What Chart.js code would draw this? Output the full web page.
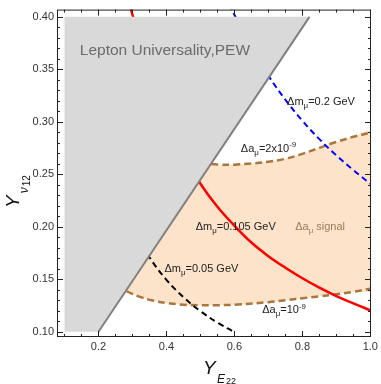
<!DOCTYPE html>
<html>
<head>
<meta charset="utf-8">
<script src="https://cdn.jsdelivr.net/npm/chart.js@4.4.0/dist/chart.umd.min.js"></script>
<style>
html, body { margin: 0; padding: 0; background: #fff; }
#wrap { width: 381px; height: 384px; }
</style>
</head>
<body>
<div id="wrap"><canvas id="chart" width="381" height="384"></canvas></div>
<script>
// ===== data =====
const xTickVals = [0.2, 0.4, 0.6, 0.8, 1.0];
const yTickVals = [0.10, 0.15, 0.20, 0.25, 0.30, 0.35, 0.40];

// excluded region (Lepton Universality, PEW)
const grayX = [0.1, 0.2, 0.821, 0.1];
const grayY = [0.1, 0.1, 0.4, 0.4];
// its drawn edge
const edgeX = [0.2, 0.821];
const edgeY = [0.1, 0.4];

// Δa_μ = 1e-9 (lower) and 2e-9 (upper) contours
const lowX = [0.283, 0.32, 0.36, 0.40, 0.45, 0.50, 0.55, 0.61, 0.70, 0.76, 0.80, 0.85, 0.89, 0.95, 1.00];
const lowY = [0.1385, 0.1335, 0.1297, 0.1275, 0.1258, 0.1252, 0.1253, 0.1259, 0.1282, 0.1305, 0.1320, 0.1337, 0.1353, 0.1381, 0.1410];
const upX = [0.532, 0.56, 0.60, 0.65, 0.70, 0.75, 0.80, 0.85, 0.90, 0.95, 1.00];
const upY = [0.2597, 0.2592, 0.2592, 0.2603, 0.2620, 0.2648, 0.2695, 0.2752, 0.2808, 0.2857, 0.2897];

// Δm_μ contours
const redX = [0.29, 0.30, 0.35, 0.40, 0.45, 0.50, 0.55, 0.60, 0.65, 0.70, 0.75, 0.80, 0.85, 0.90, 0.95, 1.00];
const redY = [0.415, 0.402, 0.344, 0.301, 0.268, 0.241, 0.219, 0.201, 0.185, 0.172, 0.161, 0.151, 0.142, 0.134, 0.127, 0.1205];
const blueX = [0.585, 0.60, 0.65, 0.70, 0.75, 0.80, 0.85, 0.90, 0.95, 1.00];
const blueY = [0.412, 0.402, 0.371, 0.344, 0.321, 0.301, 0.2835, 0.268, 0.254, 0.241];
const blackX = [0.30, 0.35, 0.40, 0.45, 0.50, 0.55, 0.598];
const blackY = [0.199, 0.171, 0.1495, 0.133, 0.1196, 0.1087, 0.100];

const FONT = '"Liberation Sans", Arial, sans-serif';

function pts(xs, ys) {
    return xs.map((x, i) => ({ x: x, y: ys[i] }));
}

// band polygon = lower contour, then upper contour walked back
const bandPts = pts(lowX, lowY).concat(pts(upX, upY).reverse());

// ===== text labels (data coords) =====
const labels = [
    { x: 0.145, y: 0.369, size: 15.5, color: "#6b6b6b", parts: [["Lepton Universality,PEW", 0]] },
    { x: 0.755, y: 0.320, size: 11, color: "#222", parts: [["Δm", 0], ["μ", -1], ["=0.2 GeV", 0]] },
    { x: 0.619, y: 0.2749, size: 11, color: "#222", parts: [["Δa", 0], ["μ", -1], ["=2x10", 0], ["-9", 1]] },
    { x: 0.486, y: 0.2009, size: 11, color: "#222", parts: [["Δm", 0], ["μ", -1], ["=0.105 GeV", 0]] },
    { x: 0.779, y: 0.2009, size: 11, color: "#9b7b5b", parts: [["Δa", 0], ["μ", -1], [" signal", 0]] },
    { x: 0.394, y: 0.1609, size: 11, color: "#222", parts: [["Δm", 0], ["μ", -1], ["=0.05 GeV", 0]] },
    { x: 0.682, y: 0.1215, size: 11, color: "#222", parts: [["Δa", 0], ["μ", -1], ["=10", 0], ["-9", 1]] }
];

function drawRich(ctx, x, y, parts, size, color) {
    ctx.fillStyle = color;
    ctx.textBaseline = "alphabetic";
    ctx.textAlign = "left";
    let cx = x;
    parts.forEach(p => {
        const kind = p[1];
        let s = size, dy = 0;
        if (kind === -1) { s = size * 0.72; dy = size * 0.28; }
        if (kind === 1) { s = size * 0.72; dy = -size * 0.42; }
        ctx.font = s + "px " + FONT;
        ctx.fillText(p[0], cx, y + dy);
        cx += ctx.measureText(p[0]).width;
    });
}

// ===============================
// FRAME, TICKS, LABELS, TITLES
// ===============================
const framePlugin = {
    id: "frame",
    afterDraw(chart) {
        const ctx = chart.ctx;
        const { left, right, top, bottom } = chart.chartArea;
        const xs = chart.scales.x, ys = chart.scales.y;

        ctx.save();
        ctx.strokeStyle = "#222";
        ctx.lineWidth = 1;
        ctx.strokeRect(left + 0.5, top + 0.5, right - left - 1, bottom - top - 1);

        ctx.beginPath();
        for (let i = 2; i <= 20; i++) {
            const len = i % 4 === 0 ? 6 : 3;
            const px = Math.round(xs.getPixelForValue(i * 0.05)) + 0.5;
            ctx.moveTo(px, bottom); ctx.lineTo(px, bottom - len);
            ctx.moveTo(px, top); ctx.lineTo(px, top + len);
        }
        for (let i = 10; i <= 40; i++) {
            const len = i % 5 === 0 ? 6 : 3;
            const py = Math.round(ys.getPixelForValue(i / 100)) + 0.5;
            ctx.moveTo(left, py); ctx.lineTo(left + len, py);
            ctx.moveTo(right, py); ctx.lineTo(right - len, py);
        }
        ctx.stroke();

        labels.forEach(l => {
            const px = xs.getPixelForValue(l.x);
            const py = ys.getPixelForValue(l.y) + l.size * 0.36;
            drawRich(ctx, px, py, l.parts, l.size, l.color);
        });

        // axis titles
        ctx.fillStyle = "#111";
        ctx.font = "italic 19px " + FONT;
        ctx.fillText("Y", 203, 374);
        ctx.font = "italic 12px " + FONT;
        ctx.fillText("E", 217, 383);
        ctx.font = "9px " + FONT;
        ctx.fillText("22", 226, 384);

        ctx.translate(18.5, 208);
        ctx.rotate(-Math.PI / 2);
        ctx.font = "italic 19px " + FONT;
        ctx.fillText("Y", 0, 0);
        const w = ctx.measureText("Y").width;
        ctx.font = "italic 12px " + FONT;
        ctx.fillText("ν", w + 2, 9.5);
        const w2 = ctx.measureText("ν").width;
        ctx.font = "10px " + FONT;
        ctx.fillText("12", w + 2 + w2 + 1, 11);
        ctx.restore();
    }
};

const lineBase = { pointRadius: 0, fill: false, clip: 0, tension: 0.4 };

new Chart(document.getElementById("chart"), {
    type: "line",
    data: {
        datasets: [
            Object.assign({ data: pts(edgeX, edgeY), borderColor: "#808080", borderWidth: 2 }, lineBase, { tension: 0 }),
            {
                // gray excluded region, drawn above the contours
                data: pts(grayX, grayY),
                pointRadius: 0, tension: 0, clip: 0,
                fill: "shape",
                backgroundColor: "#d9d9d9",
                borderWidth: 0
            },
            Object.assign({ data: pts(blackX, blackY), borderColor: "#000", borderWidth: 2, borderDash: [6, 4] }, lineBase),
            Object.assign({ data: pts(blueX, blueY), borderColor: "#0000ff", borderWidth: 2, borderDash: [6, 4] }, lineBase),
            Object.assign({ data: pts(redX, redY), borderColor: "#ff0000", borderWidth: 2.5 }, lineBase),
            Object.assign({ data: pts(upX, upY), borderColor: "#a8763e", borderWidth: 2.5, borderDash: [7, 4] }, lineBase),
            Object.assign({ data: pts(lowX, lowY), borderColor: "#a8763e", borderWidth: 2.5, borderDash: [7, 4] }, lineBase),
            {
                data: bandPts,
                pointRadius: 0, tension: 0.4, clip: 0,
                fill: "shape",
                backgroundColor: "#fde3c9",
                borderWidth: 0
            }
        ]
    },
    options: {
        responsive: false,
        animation: false,
        layout: { padding: { top: 7, right: 6, left: 0, bottom: 0 } },
        plugins: { legend: { display: false }, tooltip: { enabled: false } },
        scales: {
            x: {
                type: "linear", min: 0.078, max: 1.002,
                grid: { display: false, drawTicks: false },
                border: { display: false },
                afterBuildTicks: s => { s.ticks = xTickVals.map(v => ({ value: v })); },
                afterFit: s => { s.height = 47; },
                ticks: {
                    padding: 3, color: "#333", autoSkip: false, maxRotation: 0,
                    font: { family: FONT, size: 11 },
                    callback: v => Number(v).toFixed(1)
                }
            },
            y: {
                type: "linear", min: 0.095, max: 0.4069,
                grid: { display: false, drawTicks: false },
                border: { display: false },
                afterBuildTicks: s => { s.ticks = yTickVals.map(v => ({ value: v })); },
                afterFit: s => { s.width = 57; },
                ticks: {
                    padding: 3, color: "#333", autoSkip: false,
                    font: { family: FONT, size: 11 },
                    callback: v => Number(v).toFixed(2)
                }
            }
        }
    },
    plugins: [framePlugin]
});
</script>
</body>
</html>
